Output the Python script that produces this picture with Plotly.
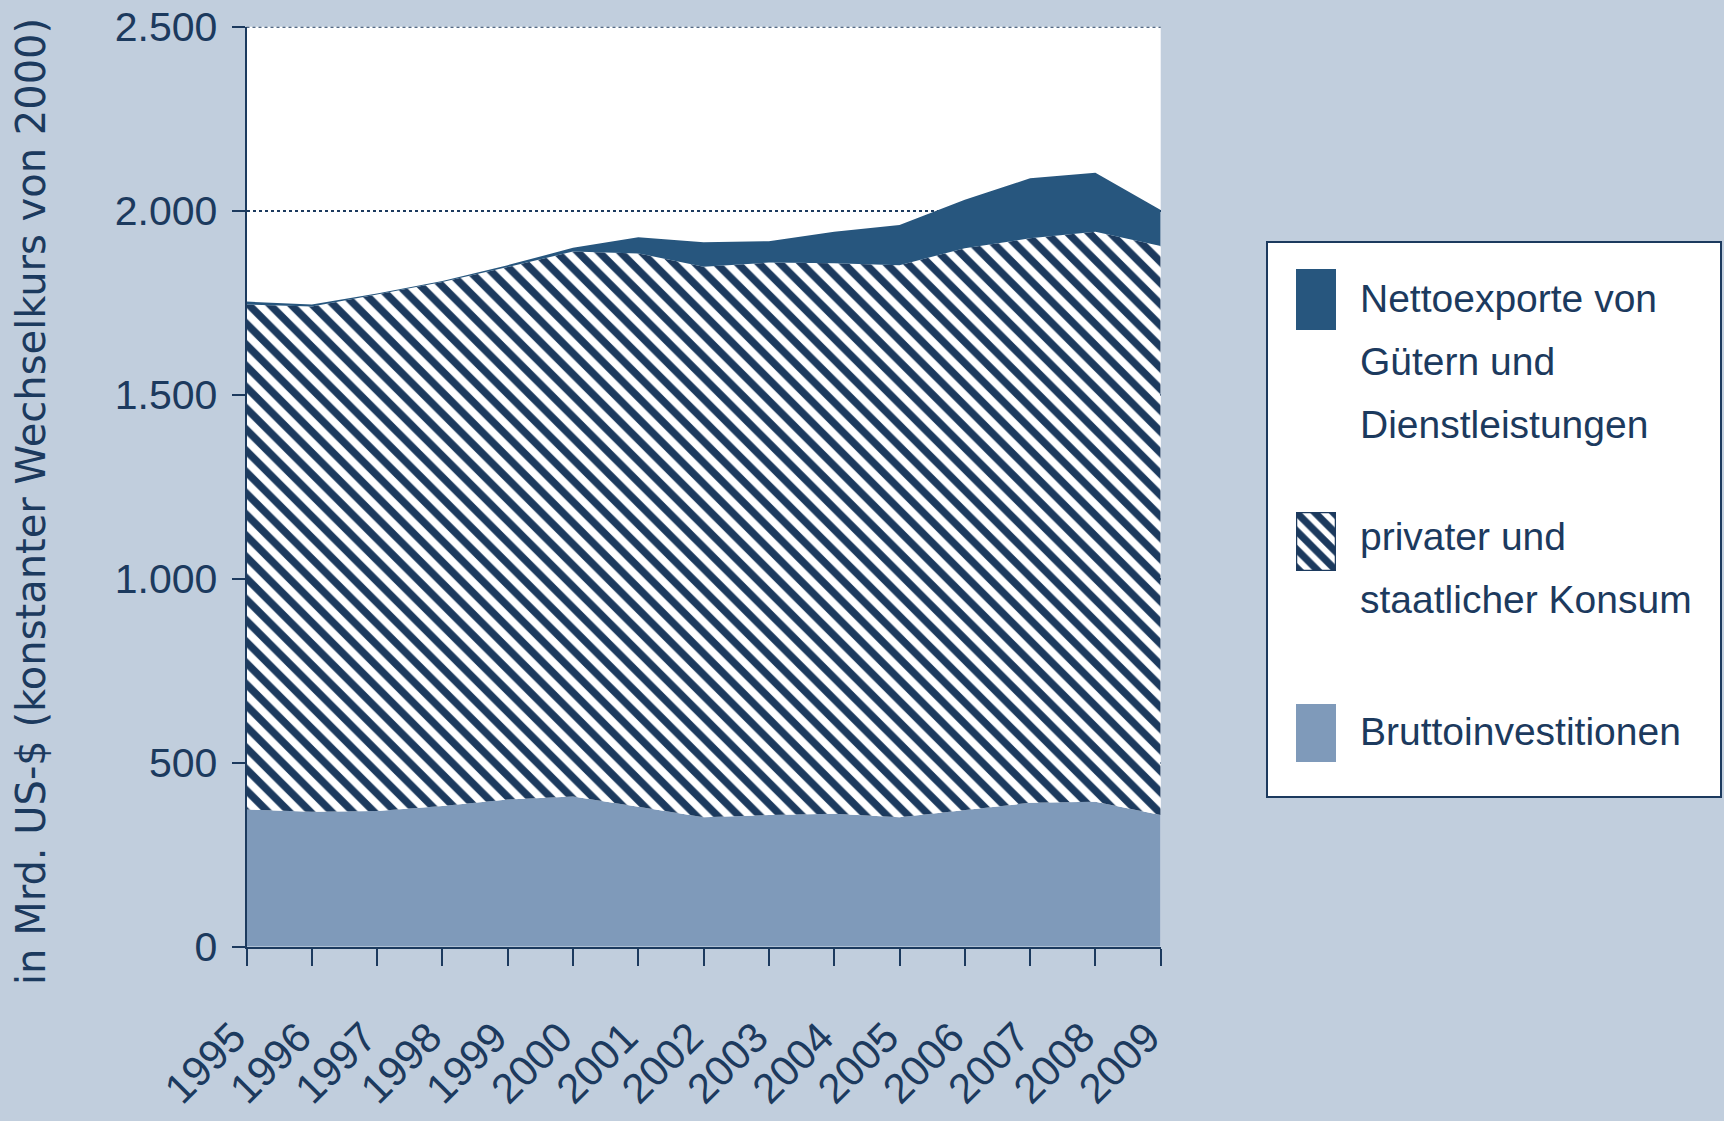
import plotly.graph_objects as go

# ---------------- data ----------------
years = [1995, 1996, 1997, 1998, 1999, 2000, 2001, 2002, 2003, 2004, 2005, 2006, 2007, 2008, 2009]
year_labels = [str(y) for y in years]
bruttoinvestitionen = [373, 367, 369, 382, 400, 408, 380, 352, 358, 361, 352, 371, 391, 394, 358]
konsum = [1372, 1373, 1403, 1424, 1447, 1481, 1504, 1496, 1501, 1496, 1500, 1527, 1534, 1549, 1546]
nettoexporte = [8, 5, 3, 3, 5, 10, 44, 66, 58, 86, 109, 132, 163, 160, 98]
y_ticks = [0, 500, 1000, 1500, 2000, 2500]

legend_labels = [
    "Nettoexporte von<br>Gütern und<br>Dienstleistungen",
    "privater und<br>staatlicher Konsum",
    "Bruttoinvestitionen",
]
y_title = "in Mrd. US-$ (konstanter Wechselkurs von 2000)"

# ---------------- styles ----------------
W, H = 1724, 1121
BG = "#c1cedd"
NAVY = "#1c3a5e"
DARK = "#27567e"
LIGHT = "#7f9aba"
SANS = "Liberation Sans, Arial, sans-serif"


def px(x):
    return x / W


def py(y):
    return 1 - y / H


fig = go.Figure()

fig.add_trace(go.Scatter(
    x=years, y=bruttoinvestitionen, stackgroup="one", mode="lines",
    line=dict(width=0), fillcolor=LIGHT, showlegend=False, name="Bruttoinvestitionen"))
fig.add_trace(go.Scatter(
    x=years, y=konsum, stackgroup="one", mode="lines",
    line=dict(width=0), fillcolor="white",
    fillpattern=dict(shape="\\", fgcolor=NAVY, bgcolor="white", size=15, solidity=0.5, fillmode="replace"),
    showlegend=False, name="privater und staatlicher Konsum"))
fig.add_trace(go.Scatter(
    x=years, y=nettoexporte, stackgroup="one", mode="lines",
    line=dict(width=0), fillcolor=DARK, showlegend=False, name="Nettoexporte"))

# legend swatches as tiny bar subplots
swatch_specs = [
    ("x2", "y2", dict(color=DARK, line=dict(width=0))),
    ("x3", "y3", dict(color="white", line=dict(width=2.5, color=NAVY),
                      pattern=dict(shape="\\", fgcolor=NAVY, bgcolor="white", size=13,
                                   solidity=0.55, fillmode="replace"))),
    ("x4", "y4", dict(color=LIGHT, line=dict(width=0))),
]
for xa, ya, mk in swatch_specs:
    fig.add_trace(go.Bar(x=[0], y=[1], width=1, xaxis=xa, yaxis=ya, marker=mk,
                         showlegend=False, hoverinfo="skip"))

fig.update_layout(
    width=W, height=H,
    paper_bgcolor=BG, plot_bgcolor="white",
    margin=dict(l=0, r=0, t=0, b=0, autoexpand=False),
    separators=",.",
    showlegend=False,
    xaxis=dict(
        domain=[px(246.5), px(1160.7)],
        range=[years[0], years[-1]],
        tickvals=years, ticktext=year_labels,
        tickangle=-45,
        tickfont=dict(family=SANS, size=42, color=NAVY),
        ticks="outside", ticklen=17, tickwidth=1.5, tickcolor=NAVY,
        ticklabelstandoff=30, ticklabelshift=-13, ticklabeloverflow="allow",
        showline=True, linecolor=NAVY, linewidth=2,
        showgrid=False, zeroline=False, fixedrange=True, automargin=False,
    ),
    yaxis=dict(
        domain=[py(946.7), py(26.7)],
        range=[0, 2500],
        tickvals=y_ticks, tickformat=",d",
        tickfont=dict(family=SANS, size=41, color=NAVY),
        ticks="outside", ticklen=13, tickwidth=2, tickcolor=NAVY,
        ticklabelstandoff=6, ticklabeloverflow="allow",
        showline=True, linecolor=NAVY, linewidth=2,
        showgrid=True, gridcolor=NAVY, gridwidth=2, griddash="dot",
        zeroline=False, fixedrange=True, automargin=False,
    ),
)

swatch_rows = [(269, 330), (512, 571), (704, 762)]
for i, (top, bot) in enumerate(swatch_rows, start=2):
    fig.update_layout(**{
        f"xaxis{i}": dict(domain=[px(1296), px(1336)], range=[-0.5, 0.5], visible=False,
                          anchor=f"y{i}", fixedrange=True, automargin=False),
        f"yaxis{i}": dict(domain=[py(bot), py(top)], range=[0, 1], visible=False,
                          anchor=f"x{i}", fixedrange=True, automargin=False),
    })

# dotted gridline at the top of the axis range (plotly clips gridlines at range ends)
fig.add_shape(type="line", xref="x domain", yref="y", x0=0, x1=1,
              y0=y_ticks[-1], y1=y_ticks[-1],
              line=dict(color=NAVY, width=2, dash="dot"), layer="above")

# legend frame
fig.add_shape(type="rect", xref="paper", yref="paper",
              x0=px(1267), x1=px(1721), y0=py(797), y1=py(242),
              fillcolor="white", line=dict(color=NAVY, width=2), layer="below")

legend_line_y = [[299, 362, 424], [537, 599], [731]]
for label, ys in zip(legend_labels, legend_line_y):
    for line_text, yc in zip(label.split("<br>"), ys):
        fig.add_annotation(text=line_text, xref="paper", yref="paper", x=px(1358), y=py(yc),
                           xanchor="left", yanchor="middle", align="left", showarrow=False,
                           font=dict(family=SANS, size=39, color=NAVY))

fig.add_annotation(text=y_title, xref="paper", yref="paper", x=px(31), y=py(502),
                   xanchor="center", yanchor="middle", textangle=-90, showarrow=False,
                   font=dict(family="DejaVu Sans, sans-serif", size=40, color=NAVY))

fig.write_html("out.html")
